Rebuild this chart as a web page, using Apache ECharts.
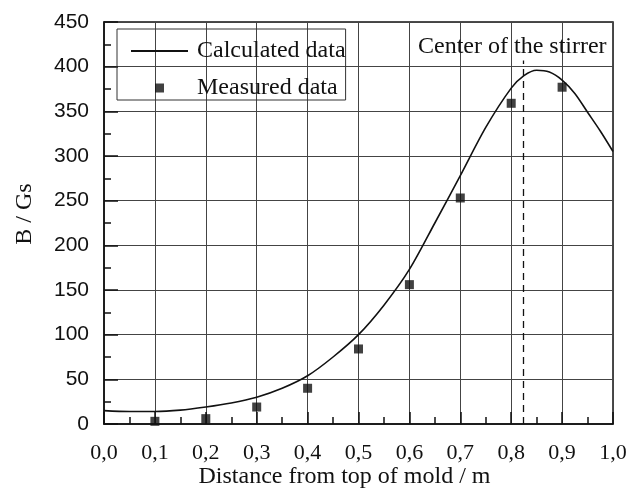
<!DOCTYPE html>
<html>
<head>
<meta charset="utf-8">
<script src="https://cdn.jsdelivr.net/npm/echarts@6/dist/echarts.min.js"></script>
<style>
  html, body { margin: 0; padding: 0; background: #fff; }
  #chart { width: 642px; height: 492px; }
</style>
</head>
<body>
<div id="chart"></div>
<script>
// calculated curve
const calcX = [0, 0.05, 0.1, 0.15, 0.2, 0.25, 0.3, 0.35, 0.4, 0.45, 0.5, 0.55, 0.6, 0.65, 0.7, 0.75, 0.8, 0.825, 0.85, 0.875, 0.9, 0.925, 0.95, 0.975, 1.0]
const calcY = [15, 14, 14, 15.5, 19, 23.5, 30, 40, 54, 75, 100, 133, 173, 225, 278, 332, 376, 390, 396, 394, 385, 370, 349, 328, 305]
// measured points
const measX = [0.1, 0.2, 0.3, 0.4, 0.5, 0.6, 0.7, 0.8, 0.9]
const measY = [3, 6, 19, 40, 84, 156, 253, 359, 377]
// stirrer centre
const stirrerX = 0.824
const stirrerTop = 407

const serif = '"Liberation Serif", "Times New Roman", serif'
const sans = '"Liberation Sans", Arial, sans-serif'

const chart = echarts.init(document.getElementById('chart'))

chart.setOption({
  animation: false,
  title: {
    text: 'Center of the stirrer',
    left: 418,
    top: 35,
    padding: 0,
    textStyle: { fontFamily: serif, fontSize: 24, fontWeight: 'normal', color: '#111' }
  },
  legend: {
    orient: 'vertical',
    left: 117,
    top: 29,
    padding: [10, 0, 0, 13],
    itemGap: 13,
    itemWidth: 57,
    itemHeight: 9,
    borderColor: '#333',
    borderWidth: 1,
    textStyle: { fontFamily: serif, fontSize: 24, color: '#111', padding: [0, 0, 0, 4] },
    data: [
      { name: 'Calculated data', itemStyle: { opacity: 0 } },
      { name: 'Measured data', icon: 'path://M0,0H10V10H0Z' }
    ]
  },
  grid: {
    left: 104,
    right: 29,
    top: 22,
    bottom: 68,
    outerBoundsMode: 'none',
    show: true,
    borderColor: '#111',
    borderWidth: 1.5
  },
  xAxis: {
    type: 'value',
    min: 0,
    max: 1,
    interval: 0.1,
    name: 'Distance from top of mold / m',
    nameLocation: 'middle',
    nameGap: 41,
    nameMoveOverlap: false,
    nameTextStyle: { fontFamily: serif, fontSize: 24, color: '#111', padding: [0, 28, 0, 0] },
    axisLine: { lineStyle: { color: '#111', width: 1.5 } },
    axisTick: { inside: true, length: 12, lineStyle: { color: '#111', width: 1.5 } },
    minorTick: { show: true, splitNumber: 2, length: 7, lineStyle: { color: '#111', width: 1.5 } },
    axisLabel: {
      margin: 18,
      fontFamily: serif,
      fontSize: 22,
      color: '#111',
      formatter: v => v.toFixed(1).replace('.', ',')
    },
    splitLine: { show: true, lineStyle: { color: '#444', width: 1 } }
  },
  yAxis: {
    type: 'value',
    min: 0,
    max: 450,
    interval: 50,
    name: 'B / Gs',
    nameLocation: 'middle',
    nameGap: 67,
    nameMoveOverlap: false,
    nameTextStyle: { fontFamily: serif, fontSize: 24, color: '#111', padding: [0, 0, 0, 18] },
    axisLine: { show: true, lineStyle: { color: '#111', width: 1.5 } },
    axisTick: { show: true, inside: true, length: 14, lineStyle: { color: '#111', width: 1.5 } },
    minorTick: { show: true, splitNumber: 2, length: 7, lineStyle: { color: '#111', width: 1.5 } },
    axisLabel: { margin: 15, fontFamily: sans, fontSize: 21, color: '#111' },
    splitLine: { show: true, lineStyle: { color: '#444', width: 1 } }
  },
  series: [
    {
      name: 'Calculated data',
      type: 'line',
      data: calcX.map((x, i) => [x, calcY[i]]),
      smooth: 0.3,
      symbol: 'none',
      lineStyle: { color: '#111', width: 1.6 },
      itemStyle: { color: '#111' },
      markLine: {
        silent: true,
        symbol: 'none',
        label: { show: false },
        lineStyle: { color: '#111', width: 1.3, type: [7, 5] },
        data: [[{ coord: [stirrerX, 0] }, { coord: [stirrerX, stirrerTop] }]]
      }
    },
    {
      name: 'Measured data',
      type: 'scatter',
      data: measX.map((x, i) => [x, measY[i]]),
      symbol: 'rect',
      symbolSize: 9,
      itemStyle: { color: '#111' }
    }
  ]
})
</script>
</body>
</html>
